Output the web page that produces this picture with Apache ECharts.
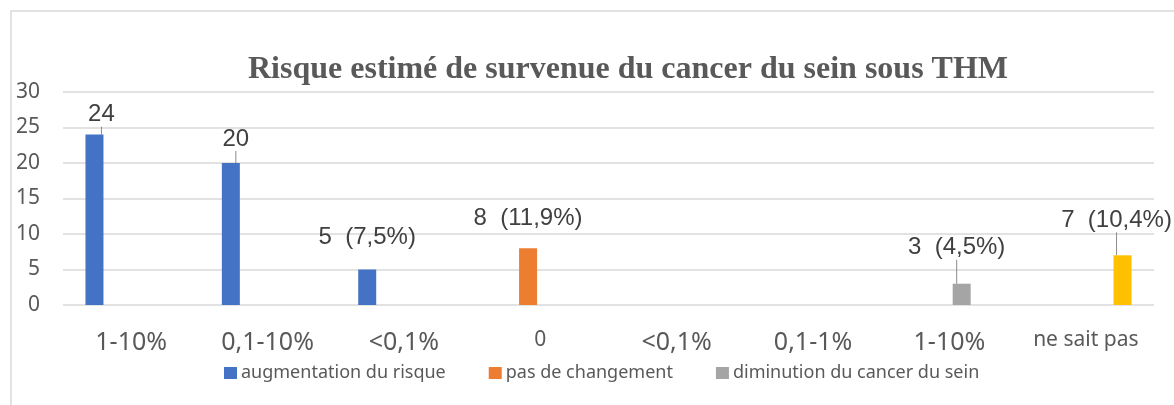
<!DOCTYPE html>
<html>
<head>
<meta charset="utf-8">
<script src="https://cdn.jsdelivr.net/npm/echarts@6/dist/echarts.min.js"></script>
<style>
  html, body { margin: 0; padding: 0; background: #fff; }
  #chart { width: 1174px; height: 405px; }
</style>
</head>
<body>
<div id="chart"></div>
<script>
// données
var categories = ['1-10%', '0,1-10%', '<0,1%', '0', '<0,1%', '0,1-1%', '1-10%', 'ne sait pas'];
var augmentation = [24, 20, 5, null, null, null, null, null];
var pasChangement = [null, null, null, 8, null, null, null, null];
var diminution = [null, null, null, null, null, null, 3, null];
var neSaitPas = [null, null, null, null, null, null, null, 7];
var pourcentages = ['', '', '7,5%', '11,9%', '', '', '4,5%', '10,4%'];
var yTicks = [0, 5, 10, 15, 20, 25, 30];

// étiquettes déplacées (avec trait de rappel), par catégorie
var decalage = {
    0: { dx: 7, dy: -3 },
    1: { dx: 5, dy: -7 },
    6: { dx: -5, dy: -19 },
    7: { dx: -6, dy: -18 }
};
// étiquettes sans trait : simple distance au-dessus de la barre
var distanceSansTrait = { 2: 20, 3: 18 };
// libellés d'axe écrits plus petits
var petitsLibelles = { 3: true, 7: true };

function items(values) {
    return values.map(function (v, i) {
        if (v == null) return null;
        var d = { value: v };
        if (distanceSansTrait[i] != null) {
            d.label = { distance: distanceSansTrait[i] };
            d.labelLine = { show: false };
        }
        return d;
    });
}

function barSerie(name, values, color) {
    return {
        name: name,
        type: 'bar',
        barWidth: 18,
        barGap: '36%',
        itemStyle: { color: color },
        data: items(values),
        label: {
            show: true,
            position: 'top',
            distance: 5,
            fontFamily: 'Liberation Sans',
            fontSize: 24,
            color: '#404040',
            formatter: function (p) {
                var pc = pourcentages[p.dataIndex];
                return pc ? p.value + '  (' + pc + ')' : String(p.value);
            }
        },
        labelLine: {
            show: true,
            lineStyle: { color: '#8c8c8c', width: 1 }
        },
        labelLayout: function (p) {
            var d = decalage[p.dataIndex];
            return d ? { dx: d.dx, dy: d.dy } : {};
        }
    };
}

var myChart = echarts.init(document.getElementById('chart'));
var option = {
    animation: false,
    title: {
        text: 'Risque estimé de survenue du cancer du sein sous THM',
        left: 243,
        top: 49,
        textStyle: {
            fontFamily: 'Liberation Serif',
            fontWeight: 'bold',
            fontSize: 32,
            color: '#595959'
        }
    },
    graphic: [{
        type: 'rect',
        shape: { x: 11, y: 11, width: 1300, height: 600 },
        style: { fill: null, stroke: '#d9d9d9', lineWidth: 1.5 },
        silent: true,
        z: -1
    }],
    legend: {
        data: ['augmentation du risque', 'pas de changement', 'diminution du cancer du sein'],
        left: 219,
        top: 359,
        itemWidth: 13,
        itemHeight: 12,
        itemGap: 43,
        icon: 'rect',
        selectedMode: false,
        textStyle: {
            fontFamily: 'Noto Sans',
            fontSize: 18,
            color: '#595959',
            padding: [0, 0, 0, -1]
        }
    },
    grid: { left: 63, right: 20, top: 92, bottom: 100 },
    xAxis: {
        type: 'category',
        data: categories,
        axisLine: { show: false },
        axisTick: { show: false },
        axisLabel: {
            interval: 0,
            margin: 25,
            fontFamily: 'Noto Sans',
            fontSize: 25,
            color: '#595959',
            formatter: function (v, i) {
                return petitsLibelles[i] ? '{petit|' + v + '}' : v;
            },
            rich: {
                petit: {
                    fontFamily: 'Noto Sans',
                    fontSize: 21,
                    color: '#595959',
                    padding: [0, 0, 8, 0]
                }
            }
        }
    },
    yAxis: {
        type: 'value',
        min: yTicks[0],
        max: yTicks[yTicks.length - 1],
        interval: 5,
        axisLine: { show: false },
        axisTick: { show: false },
        axisLabel: {
            margin: 23,
            fontFamily: 'Noto Sans',
            fontSize: 21,
            color: '#595959'
        },
        splitLine: { lineStyle: { color: '#d9d9d9', width: 1.5 } }
    },
    series: [
        barSerie('augmentation du risque', augmentation, '#4472C4'),
        barSerie('pas de changement', pasChangement, '#ED7D31'),
        barSerie('diminution du cancer du sein', diminution, '#A5A5A5'),
        barSerie('ne sait pas', neSaitPas, '#FFC000')
    ]
};
myChart.setOption(option);
</script>
</body>
</html>
